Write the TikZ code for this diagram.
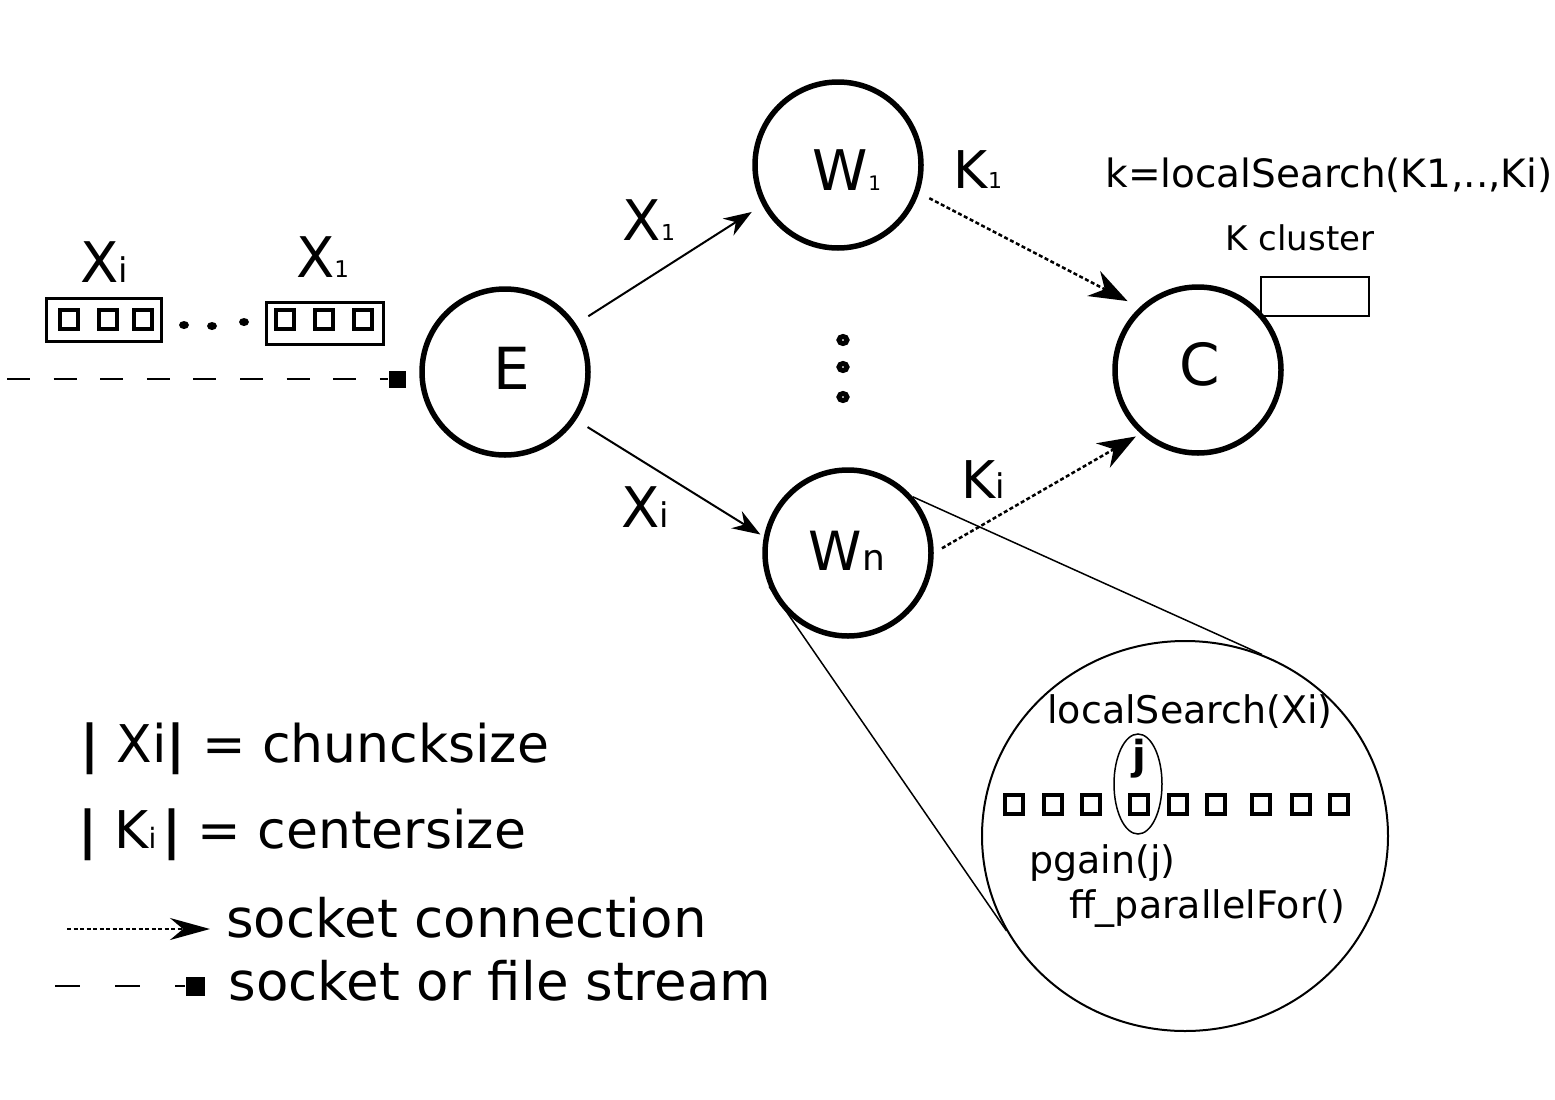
\documentclass[tikz,border=0pt]{standalone}
\usepackage{fontspec}
\setmainfont{DejaVu Sans}
\usetikzlibrary{arrows.meta,shapes.geometric}
\newcommand{\fsz}[1]{\fontsize{#1pt}{#1pt}\selectfont}
\begin{document}
\begin{tikzpicture}[x=1pt, y=-1pt,
  proc/.style={circle, draw, line width=5.5pt, minimum size=166pt, inner sep=0pt},
  txt/.style={inner sep=0pt, anchor=base},
  flow/.style={line width=2pt, -{Stealth[length=28pt,width=20pt]}},
  sock/.style={line width=2.5pt, dash pattern=on 4pt off 2.5pt, -{Stealth[length=38pt,width=28pt]}},
  sq/.style={draw, line width=4pt, minimum width=18pt, minimum height=19pt, inner sep=0pt},
  ring/.style={ellipse, draw, line width=5pt, minimum width=8pt, minimum height=7pt, inner sep=0pt},
  blob/.style={ellipse, fill, minimum width=10pt, minimum height=8pt, inner sep=0pt},
  chunk/.style={draw, line width=3pt, inner sep=0pt},
  zoomline/.style={line width=1.5pt},
  endsq/.style={fill, minimum size=17pt, inner sep=0pt}]
\useasboundingbox (0,0) rectangle (1555,1100);

% main processes
\node[proc] (E) at (505,372) {};
\node[proc] (W1) at (838,165) {};
\node[proc] (Wn) at (848,553) {};
\node[draw, line width=2pt, minimum width=108pt, minimum height=39pt, inner sep=0pt] (kc) at (1315,296.5) {};
\node[proc] (C) at (1198,370) {};

\node[txt, font=\fsz{58}] (tE) at (512,389) {E};
\node[txt, font=\fsz{58}] (tC) at (1200,385) {C};
\node[txt] (tW1) at (847,190) {\fsz{56}W\fsz{20}1};
\node[txt] (tWn) at (847,570) {\fsz{54}W\fsz{36}n};

% vertical dots
\node[ring] (v1) at (843,340) {};
\node[ring] (v2) at (843,367) {};
\node[ring] (v3) at (843,397) {};

% connectors
\draw[flow, shorten <=14.5pt, shorten >=12.5pt] (E.34.8) -- (W1.208.7);
\draw[flow, shorten <=13.5pt, shorten >=4pt] (E.-34.3) -- (Wn.169.7);
\draw[sock, shorten <=11.5pt, shorten >=13.5pt] (W1.-19) -- (C.133.4);
\draw[sock, shorten <=9.5pt, shorten >=5.5pt] (Wn.0) -- (C.228);

\node[txt] (lX1) at (649,240) {\fsz{56}X\fsz{22}1};
\node[txt] (lXi) at (645,527) {\fsz{56}X\fsz{34}i};
\node[txt] (lK1) at (978,188) {\fsz{52}K\fsz{22}1};
\node[txt] (lKi) at (983,498) {\fsz{52}K\fsz{34}i};

\node[txt, font=\fsz{39}] (ks) at (1329,187) {k=localSearch(K1,..,Ki)};
\node[txt, font=\fsz{34}] (kcl) at (1300,250) {K cluster};

% input stream
\node[chunk, minimum width=115pt, minimum height=43pt] (bi) at (104,320) {};
\node[sq] (bi1) at (68.5,319.5) {};
\node[sq] (bi2) at (107.5,319.5) {};
\node[sq] (bi3) at (142.5,319.5) {};
\node[chunk, minimum width=117pt, minimum height=42pt] (b1) at (325,323.5) {};
\node[sq] (b11) at (284.5,319) {};
\node[sq] (b12) at (324,319) {};
\node[sq] (b13) at (363,319) {};
\node[blob] (d1) at (184,325) {};
\node[blob] (d2) at (212,326) {};
\node[blob] (d3) at (244,322) {};
\node[txt] (tXi) at (104.5,282) {\fsz{56}X\fsz{34}i};
\node[txt] (tX1) at (322.5,277) {\fsz{56}X\fsz{23}1};

\coordinate (src) at (7,379);
\node[endsq] (insq) at (397,379) {};
\draw[line width=2pt, dash pattern=on 23pt off 23.6pt] (src) -- (insq.west);

% zoom of Wn
\node[ellipse, draw, line width=2pt, minimum width=406pt, minimum height=390pt, inner sep=0pt] (Z) at (1185,836) {};
\draw[zoomline] (Wn.41) -- (Z.67);
\draw[zoomline] (Wn.203) -- (Z.208);
\node[txt, font=\fsz{38}] (ls) at (1190,723) {localSearch(Xi)};
\node[ellipse, draw, line width=1.5pt, minimum width=48pt, minimum height=100pt, inner sep=0pt] (je) at (1138,784) {};
\node[txt, font=\fsz{40}\bfseries] (tj) at (1139,769) {j};
\foreach \i/\x in {1/1014,2/1052.5,3/1091,4/1139,5/1177.5,6/1216,7/1261,8/1301,9/1339}
  \node[sq] (r\i) at (\x,804) {};
\node[txt, font=\fsz{38}] (pg) at (1102.5,873) {pgain(j)};
\node[txt, font=\fsz{38}] (pf) at (1207.5,918) {ff\_parallelFor()};

% legend
\node[txt, font=\fsz{52}] (lg1) at (315,762) {{\bfseries|} Xi{\bfseries|} = chuncksize};
\node[txt, font=\fsz{52}] (lg2) at (302.5,848) {{\bfseries|} K{\fsz{28}i}\hspace{6pt}{\bfseries|} = centersize};
\node[txt, font=\fsz{53}] (lg3) at (466.5,937) {socket connection};
\node[txt, font=\fsz{53}] (lg4) at (500,1000) {socket or file stream};
\coordinate (ls1) at (67,929);
\coordinate (ls2) at (210,929);
\draw[sock, -{Stealth[length=40pt,width=22pt]}] (ls1) -- (ls2);
\coordinate (ld1) at (55,986);
\node[endsq, minimum size=19pt] (ldsq) at (195,986) {};
\draw[line width=2pt, dash pattern=on 25pt off 35pt] (ld1) -- (ldsq.west);
\end{tikzpicture}
\end{document}
